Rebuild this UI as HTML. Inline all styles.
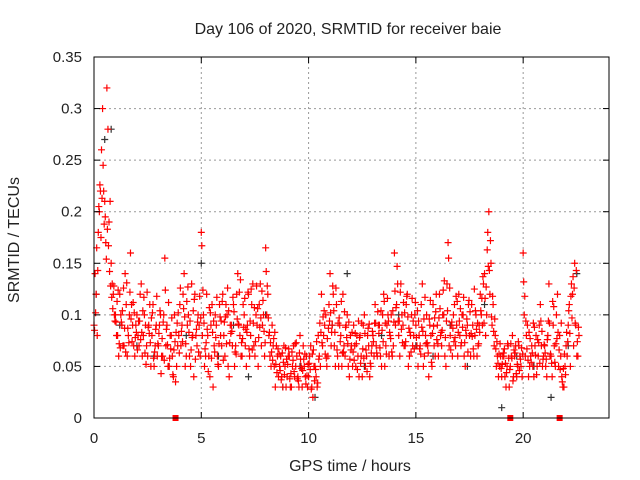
<!DOCTYPE html>
<html><head><meta charset="utf-8"><style>
body{margin:0;background:#fff;}
svg{display:block;font-family:"Liberation Sans",sans-serif;}
</style></head><body>
<svg id="chart" width="640" height="480">
<text x="348" y="34" text-anchor="middle" font-size="16" fill="#222">Day 106 of 2020, SRMTID for receiver baie</text>
<text x="350" y="471" text-anchor="middle" font-size="16" fill="#222">GPS time / hours</text>
<text transform="translate(19,240) rotate(-90)" text-anchor="middle" font-size="16" fill="#222">SRMTID / TECUs</text>
<g id="grid"></g><g id="marks"></g>
<rect x="94" y="57" width="515" height="361" fill="none" stroke="#000" stroke-width="1"/>
<g id="ticks"></g>
</svg>
<script>
const xTicks=[0,5,10,15,20];
const yTicks=[0,0.05,0.1,0.15,0.2,0.25,0.3,0.35];
const yTickLabels=["0","0.05","0.1","0.15","0.2","0.25","0.3","0.35"];
const redStartA=0, redStartB=0.05, redStartC=0.025, redStartD=0.075, sampleStep=0.1;
const redTecA=[0.09,0.12,0.18,0.22,0.30,0.21,0.32,0.19,0.15,0.12,
0.10,0.08,0.12,0.09,0.07,0.11,0.08,0.16,0.09,0.06,
0.10,0.07,0.13,0.08,0.09,0.06,0.11,0.08,0.05,0.09,
0.07,0.10,0.06,0.155,0.09,0.05,0.08,0.04,0.035,0.07,
0.11,0.09,0.14,0.06,0.10,0.05,0.08,0.12,0.07,0.09,
0.18,0.10,0.06,0.08,0.04,0.11,0.07,0.09,0.05,0.08,
0.12,0.06,0.10,0.04,0.09,0.11,0.07,0.14,0.08,0.06,
0.10,0.05,0.12,0.08,0.13,0.06,0.09,0.11,0.07,0.10,
0.165,0.12,0.06,0.09,0.05,0.07,0.04,0.06,0.03,0.05,
0.04,0.06,0.03,0.07,0.05,0.04,0.08,0.03,0.05,0.06,
0.04,0.07,0.02,0.05,0.03,0.06,0.12,0.08,0.10,0.06,
0.14,0.09,0.07,0.11,0.05,0.08,0.12,0.06,0.10,0.04,
0.07,0.09,0.05,0.06,0.08,0.04,0.10,0.06,0.07,0.05,
0.08,0.11,0.06,0.09,0.05,0.12,0.07,0.10,0.08,0.06,
0.16,0.11,0.08,0.13,0.09,0.07,0.12,0.06,0.10,0.08,
0.09,0.05,0.07,0.13,0.06,0.10,0.04,0.08,0.11,0.06,
0.09,0.12,0.07,0.10,0.05,0.17,0.08,0.06,0.11,0.09,
0.12,0.07,0.10,0.05,0.09,0.08,0.11,0.06,0.10,0.07,
0.12,0.09,0.14,0.10,0.20,0.15,0.11,0.08,0.06,0.05,
0.04,0.06,0.03,0.07,0.05,0.08,0.06,0.04,0.07,0.05,
0.16,0.06,0.09,0.05,0.07,0.04,0.08,0.06,0.11,0.05,
0.07,0.04,0.13,0.06,0.09,0.05,0.12,0.08,0.04,0.03,
0.07,0.09,0.05,0.12,0.15,0.06,0.08];
const redTecB=[0.14,0.08,0.20,0.26,0.22,0.17,0.28,0.21,0.13,0.10,
0.08,0.06,0.10,0.07,0.14,0.06,0.10,0.11,0.07,0.09,
0.08,0.12,0.06,0.10,0.07,0.09,0.05,0.11,0.07,0.06,
0.09,0.06,0.10,0.07,0.05,0.08,0.06,0.10,0.05,0.08,
0.07,0.12,0.05,0.09,0.06,0.13,0.04,0.08,0.10,0.06,
0.08,0.05,0.12,0.06,0.09,0.03,0.10,0.06,0.11,0.07,
0.08,0.11,0.05,0.09,0.07,0.05,0.12,0.09,0.06,0.11,
0.07,0.09,0.06,0.11,0.07,0.10,0.05,0.13,0.09,0.06,
0.10,0.08,0.05,0.07,0.03,0.06,0.05,0.04,0.07,0.03,
0.06,0.03,0.05,0.04,0.06,0.03,0.05,0.07,0.04,0.03,
0.06,0.03,0.05,0.04,0.08,0.05,0.07,0.09,0.05,0.11,
0.07,0.12,0.05,0.06,0.09,0.05,0.07,0.09,0.05,0.08,
0.05,0.07,0.08,0.04,0.06,0.09,0.05,0.08,0.04,0.07,
0.06,0.07,0.09,0.06,0.10,0.05,0.09,0.06,0.10,0.07,
0.09,0.13,0.06,0.10,0.07,0.11,0.05,0.08,0.07,0.10,
0.07,0.08,0.11,0.05,0.08,0.07,0.09,0.05,0.07,0.12,
0.06,0.08,0.10,0.06,0.13,0.07,0.09,0.10,0.07,0.06,
0.08,0.10,0.06,0.08,0.11,0.06,0.09,0.08,0.06,0.09,
0.10,0.13,0.08,0.18,0.12,0.09,0.07,0.05,0.04,0.06,
0.06,0.04,0.05,0.03,0.06,0.04,0.07,0.05,0.06,0.04,
0.10,0.08,0.04,0.06,0.05,0.07,0.05,0.09,0.07,0.06,
0.05,0.08,0.06,0.04,0.07,0.10,0.05,0.06,0.03,0.05,
0.06,0.11,0.13,0.07,0.09,0.06];
const redTecC=[0.085,0.165,0.205,0.175,0.245,0.195,0.183,0.142,0.117,0.128,
0.093,0.124,0.068,0.104,0.087,0.131,0.073,0.096,0.112,0.078,
0.066,0.094,0.083,0.117,0.052,0.088,0.073,0.102,0.064,0.118,
0.082,0.043,0.093,0.124,0.071,0.058,0.097,0.066,0.083,0.102,
0.126,0.074,0.098,0.113,0.083,0.066,0.104,0.057,0.093,0.118,
0.167,0.092,0.073,0.045,0.102,0.083,0.064,0.117,0.072,0.094,
0.056,0.098,0.126,0.073,0.084,0.103,0.062,0.091,0.134,0.077,
0.116,0.083,0.067,0.125,0.092,0.074,0.106,0.088,0.123,0.084,
0.142,0.097,0.073,0.056,0.083,0.044,0.062,0.037,0.054,0.068,
0.052,0.038,0.064,0.045,0.073,0.036,0.057,0.046,0.062,0.041,
0.053,0.028,0.066,0.047,0.034,0.092,0.073,0.104,0.058,0.087,
0.102,0.128,0.083,0.066,0.097,0.113,0.064,0.088,0.072,0.057,
0.083,0.056,0.072,0.094,0.053,0.067,0.082,0.045,0.091,0.063,
0.074,0.092,0.103,0.068,0.085,0.113,0.062,0.094,0.077,0.104,
0.123,0.147,0.094,0.086,0.112,0.074,0.098,0.083,0.116,0.067,
0.078,0.094,0.062,0.084,0.117,0.073,0.096,0.054,0.089,0.103,
0.072,0.106,0.085,0.133,0.094,0.155,0.066,0.087,0.078,0.113,
0.094,0.073,0.117,0.085,0.064,0.103,0.079,0.125,0.086,0.072,
0.104,0.137,0.116,0.163,0.143,0.098,0.084,0.067,0.053,0.072,
0.052,0.067,0.044,0.058,0.072,0.036,0.063,0.052,0.046,0.068,
0.132,0.094,0.056,0.077,0.063,0.088,0.042,0.073,0.094,0.057,
0.063,0.076,0.092,0.053,0.108,0.072,0.083,0.047,0.035,0.062,
0.083,0.104,0.118,0.137,0.092,0.074];
const redTecD=[0.102,0.143,0.226,0.213,0.188,0.154,0.167,0.128,0.106,0.094,
0.113,0.072,0.093,0.126,0.064,0.087,0.122,0.074,0.102,0.083,
0.094,0.076,0.104,0.063,0.122,0.082,0.097,0.058,0.086,0.072,
0.104,0.077,0.056,0.086,0.112,0.067,0.042,0.074,0.092,0.063,
0.084,0.106,0.072,0.127,0.094,0.078,0.115,0.086,0.064,0.097,
0.124,0.067,0.086,0.107,0.058,0.094,0.078,0.052,0.098,0.113,
0.093,0.072,0.104,0.082,0.117,0.064,0.096,0.122,0.073,0.088,
0.086,0.122,0.094,0.066,0.107,0.128,0.078,0.097,0.114,0.073,
0.128,0.083,0.064,0.077,0.052,0.067,0.046,0.063,0.042,0.057,
0.067,0.043,0.056,0.072,0.038,0.063,0.048,0.057,0.033,0.052,
0.047,0.062,0.036,0.074,0.057,0.083,0.098,0.062,0.077,0.094,
0.083,0.104,0.126,0.092,0.074,0.063,0.103,0.078,0.093,0.066,
0.064,0.082,0.047,0.078,0.092,0.058,0.066,0.087,0.053,0.084,
0.092,0.063,0.082,0.104,0.074,0.092,0.116,0.083,0.064,0.093,
0.107,0.094,0.122,0.073,0.102,0.118,0.087,0.064,0.094,0.112,
0.104,0.067,0.088,0.096,0.072,0.063,0.114,0.082,0.097,0.076,
0.097,0.083,0.124,0.078,0.104,0.126,0.093,0.074,0.118,0.083,
0.106,0.088,0.073,0.096,0.114,0.082,0.067,0.104,0.092,0.083,
0.116,0.092,0.127,0.147,0.172,0.118,0.096,0.074,0.062,0.048,
0.063,0.053,0.072,0.047,0.058,0.066,0.043,0.074,0.057,0.062,
0.118,0.067,0.083,0.054,0.092,0.061,0.076,0.053,0.084,0.071,
0.057,0.094,0.062,0.113,0.054,0.077,0.066,0.092,0.048,0.042,
0.074,0.082,0.097,0.126,0.143,0.088];
const blackTimes=[0.1,0.5,0.8,1.2,2.0,2.8,3.5,4.3,5.0,5.8,6.5,7.2,8.0,8.8,9.6,10.3,11.1,11.8,12.6,13.4,14.2,15.0,15.8,16.6,17.4,18.2,19.0,19.7,20.5,21.3,22.1,22.5];
const blackTec=[0.12,0.27,0.28,0.09,0.07,0.06,0.05,0.08,0.15,0.06,0.09,0.04,0.10,0.03,0.05,0.02,0.09,0.14,0.05,0.08,0.10,0.07,0.06,0.09,0.05,0.11,0.01,0.06,0.05,0.02,0.07,0.14];
const zeroTimes=[3.8,19.4,21.7];

const NS="http://www.w3.org/2000/svg";
const X0=94,X1=609,Y0=418,Y1=57,XMAX=24,YMAX=0.35;
function xs(t){return X0+(X1-X0)*t/XMAX;}
function ys(v){return Y0-(Y0-Y1)*v/YMAX;}
function mk(tag,attrs,parent){const e=document.createElementNS(NS,tag);for(const k in attrs)e.setAttribute(k,attrs[k]);parent.appendChild(e);return e;}
const grid=document.getElementById('grid'),ticks=document.getElementById('ticks'),marks=document.getElementById('marks');
xTicks.forEach(t=>{
  const x=xs(t);
  if(t>0){const g=mk('line',{x1:x,x2:x,y1:Y1,y2:Y0,stroke:'#999','stroke-dasharray':'2,3'},grid);
  
  }
  mk('line',{x1:x,x2:x,y1:Y0,y2:Y0-6,stroke:'#000'},ticks);
  mk('line',{x1:x,x2:x,y1:Y1,y2:Y1+6,stroke:'#000'},ticks);
  const l=mk('text',{x:x,y:443,'text-anchor':'middle','font-size':15,fill:'#222'},ticks);l.textContent=t;
  
  
});
yTicks.forEach((v,i)=>{
  const y=ys(v);
  if(v>0&&v<YMAX){const g=mk('line',{x1:X0,x2:X1,y1:y,y2:y,stroke:'#999','stroke-dasharray':'2,3'},grid);
  
  }
  mk('line',{x1:X0,x2:X0+6,y1:y,y2:y,stroke:'#000'},ticks);
  mk('line',{x1:X1,x2:X1-6,y1:y,y2:y,stroke:'#000'},ticks);
  const l=mk('text',{x:82,y:y+5,'text-anchor':'end','font-size':15,fill:'#222'},ticks);l.textContent=yTickLabels[i];
  
  
});
function plus(t,v,col,name){
  const x=xs(t),y=ys(v);
  const p=mk('path',{d:`M${x-3.5},${y}h7M${x},${y-3.5}v7`,stroke:col,'stroke-width':1.2,fill:'none'},marks);
  
  
}
blackTec.forEach((v,i)=>plus(blackTimes[i],v,'#333','black-point'));
redTecA.forEach((v,i)=>plus(redStartA+i*sampleStep,v,'#f00','red-point'));
redTecB.forEach((v,i)=>plus(redStartB+i*sampleStep,v,'#f00','red-point'));
redTecC.forEach((v,i)=>plus(redStartC+i*sampleStep,v,'#f00','red-point'));
redTecD.forEach((v,i)=>plus(redStartD+i*sampleStep,v,'#f00','red-point'));
zeroTimes.forEach(t=>{
  const r=mk('rect',{x:xs(t)-3,y:Y0-3,width:6,height:6,fill:'#f00'},marks);
  
  
});
</script>
</body></html>
